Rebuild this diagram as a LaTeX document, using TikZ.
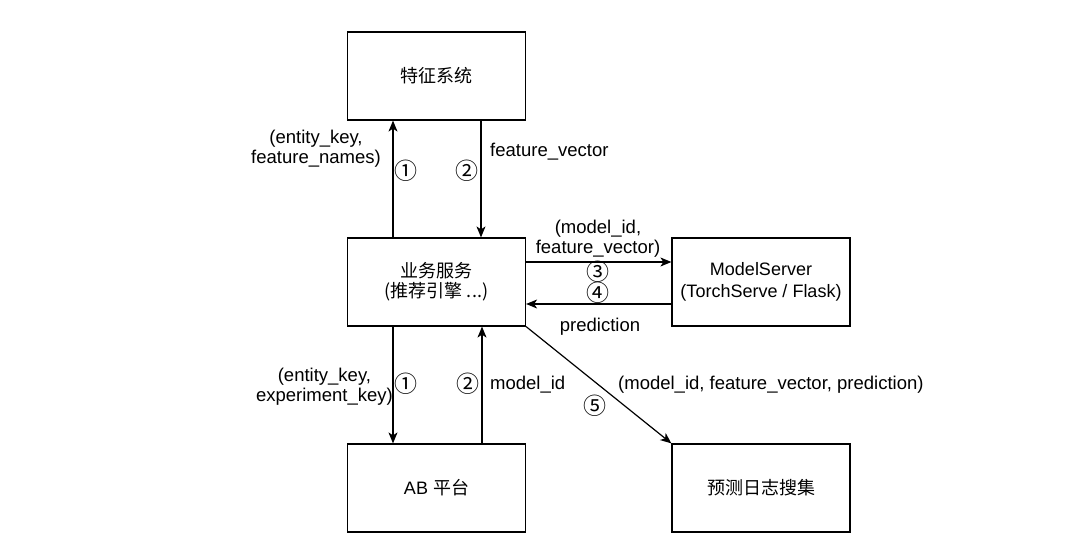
\documentclass[tikz,border=0pt]{standalone}
\usepackage{fontspec}
\setmainfont{Liberation Sans}
\newfontfamily\cjk{Noto Sans CJK SC}
\usetikzlibrary{arrows.meta}
\begin{document}
\begin{tikzpicture}[x=1pt,y=-1pt,
  box/.style={draw,line width=1.2pt,minimum width=178pt,minimum height=88pt,inner sep=0pt,align=center,font=\fontsize{18}{22}\selectfont},
  arr/.style={line width=1.2pt,-{Stealth[length=11pt,width=9pt,inset=3pt]}},
  lbl/.style={font=\fontsize{18.5}{20}\selectfont,inner sep=0pt,align=center},
  num/.style={font=\cjk\fontsize{23}{23}\selectfont,inner sep=0pt}]
\useasboundingbox (0,0) rectangle (1080,556);
\node[box] (feat) at (436.5,76) {\cjk 特征系统};
\node[box] (biz) at (436.5,282) {\cjk 业务服务\\[-2pt]\cjk (推荐引擎 ...)};
\node[box] (ms) at (761,282) {ModelServer\\(TorchServe / Flask)};
\node[box] (ab) at (436.5,488) {AB \cjk 平台};
\node[box] (log) at (761,488) {\cjk 预测日志搜集};
% top arrows
\draw[arr] (biz.north -| 393,0) -- (feat.south -| 393,0);
\draw[arr] (feat.south -| 481,0) -- (biz.north -| 481,0);
% side arrows
\draw[arr] (biz.east |- 0,262) -- (ms.west |- 0,262);
\draw[arr] (ms.west |- 0,304) -- (biz.east |- 0,304);
% bottom arrows
\draw[arr] (biz.south -| 393,0) -- (ab.north -| 393,0);
\draw[arr] (ab.north -| 482,0) -- (biz.south -| 482,0);
\draw[arr] (biz.south east) -- (log.north west);
% labels
\node[lbl,anchor=east] (l1) at (381,149) {(entity\_key,\\feature\_names)};
\node[num] (n1) at (406,171) {①};
\node[num] (n2) at (467,171) {②};
\node[lbl,anchor=west] (l2) at (490,152) {feature\_vector};
\node[lbl] (l3) at (598,239) {(model\_id,\\feature\_vector)};
\node[num] (n3) at (598,272) {③};
\node[num] (n4) at (598,293) {④};
\node[lbl] (l4) at (600,327) {prediction};
\node[lbl,anchor=east] (l5) at (393,387) {(entity\_key,\\experiment\_key)};
\node[num] (n5) at (406,384) {①};
\node[num] (n6) at (468,384) {②};
\node[lbl,anchor=west] (l6) at (490,385) {model\_id};
\node[num] (n7) at (595,406) {⑤};
\node[lbl,anchor=west] (l7) at (618,385) {(model\_id, feature\_vector, prediction)};
\end{tikzpicture}
\end{document}
